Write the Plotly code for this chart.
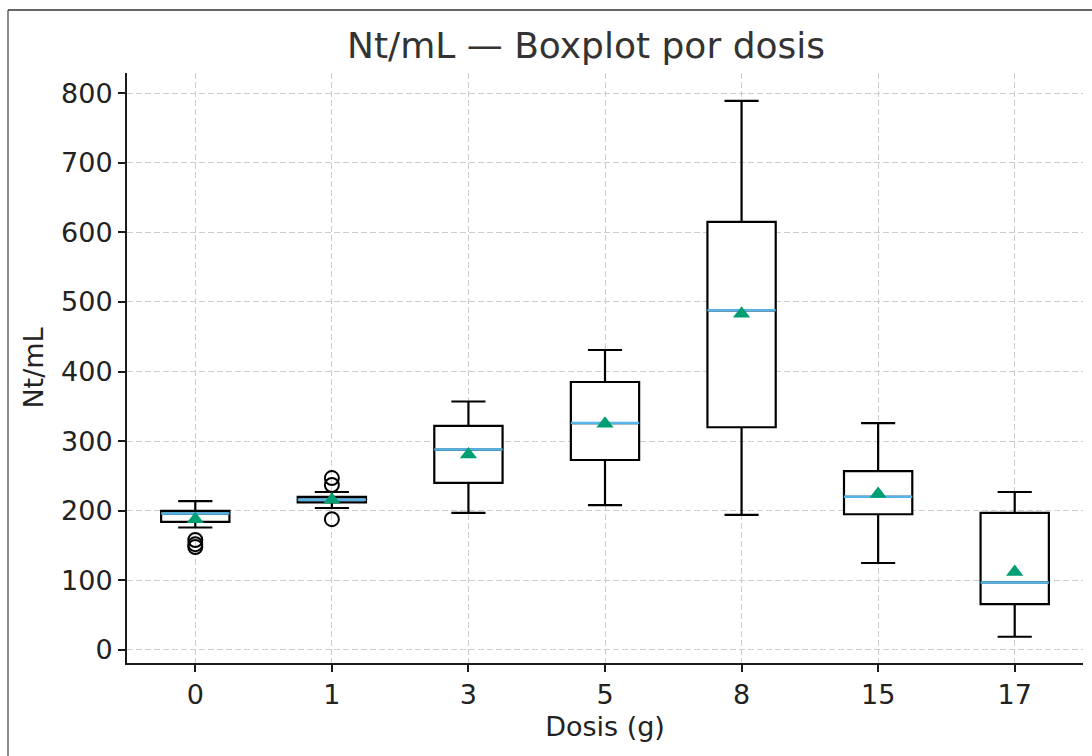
import plotly.graph_objects as go

doses = ["0", "1", "3", "5", "8", "15", "17"]
q1 = [184, 212, 240, 273, 320, 195, 66]
median = [196, 216, 288, 326, 488, 220, 97]
q3 = [200, 220, 322, 385, 615, 257, 197]
lower_whisker = [176, 204, 197, 208, 194, 125, 19]
upper_whisker = [214, 227, 357, 431, 789, 326, 227]
means = [188, 216, 281, 325, 483, 224, 112]
outlier_dose = ["0", "0", "0", "1", "1", "1"]
outlier_vals = [158, 152, 148, 247, 237, 188]

pos = list(range(1, len(doses) + 1))
pos_of = {d: p for d, p in zip(doses, pos)}
half = 0.25

FONT = "DejaVu Sans"
TXT = "#222222"

fig = go.Figure()

fig.add_trace(go.Box(
    x=pos, q1=q1, median=median, q3=q3,
    lowerfence=lower_whisker, upperfence=upper_whisker,
    width=2 * half, whiskerwidth=0.5,
    line=dict(color="black", width=2.2), fillcolor="white",
    boxpoints=False, showlegend=False, hoverinfo="skip",
))

# median lines in blue
mx, my = [], []
for p, m in zip(pos, median):
    mx += [p - half, p + half, None]
    my += [m, m, None]
fig.add_trace(go.Scatter(x=mx, y=my, mode="lines",
                         line=dict(color="#56B4E9", width=2.5),
                         showlegend=False, hoverinfo="skip"))

# outliers
fig.add_trace(go.Scatter(x=[pos_of[d] for d in outlier_dose], y=outlier_vals,
                         mode="markers",
                         marker=dict(symbol="circle-open", size=14,
                                     line=dict(color="black", width=2), color="black"),
                         showlegend=False))

# means
fig.add_trace(go.Scatter(x=pos, y=means, mode="markers",
                         marker=dict(symbol="triangle-up", size=15, color="#009E73"),
                         showlegend=False))

fig.update_layout(
    width=1092, height=756,
    margin=dict(l=127, r=9, t=73, b=93),
    paper_bgcolor="white", plot_bgcolor="white",
    font=dict(family=FONT, size=27, color=TXT),
    title=dict(text="Nt/mL — Boxplot por dosis", x=586 / 1092, xanchor="center",
               y=1 - 45 / 756, yanchor="middle",
               font=dict(family=FONT, size=36, color="#333333")),
    shapes=[
        dict(type="line", xref="paper", yref="paper",
             x0=(8 - 127) / 956, x1=(8 - 127) / 956, y0=-0.2, y1=(663 - 10) / 590,
             line=dict(color="#666666", width=1.5)),
        dict(type="line", xref="paper", yref="paper",
             x0=(8 - 127) / 956, x1=1.05, y0=(663 - 10) / 590, y1=(663 - 10) / 590,
             line=dict(color="#333333", width=1.5)),
    ],
)

fig.update_xaxes(
    range=[0.5, 7.5], tickmode="array", tickvals=pos, ticktext=doses,
    showline=True, linecolor="#1a1a1a", linewidth=2, mirror=False,
    ticks="outside", ticklen=7, tickwidth=2, tickcolor="#1a1a1a",
    showgrid=True, gridcolor="#cccccc", griddash="6px,3px", gridwidth=1,
    zeroline=False,
    title=dict(text="Dosis (g)", font=dict(family=FONT, size=27, color=TXT), standoff=8),
    tickfont=dict(family=FONT, size=27, color=TXT),
)
fig.update_yaxes(
    range=[-18.7, 829], tickmode="array", tickvals=[0, 100, 200, 300, 400, 500, 600, 700, 800],
    showline=True, linecolor="#1a1a1a", linewidth=2, mirror=False,
    ticks="outside", ticklen=7, tickwidth=2, tickcolor="#1a1a1a",
    showgrid=True, gridcolor="#cccccc", griddash="6px,3px", gridwidth=1,
    zeroline=False,
    title=dict(text="Nt/mL", font=dict(family=FONT, size=27, color=TXT), standoff=10),
    tickfont=dict(family=FONT, size=27, color=TXT),
)

fig.write_html("out.html")
